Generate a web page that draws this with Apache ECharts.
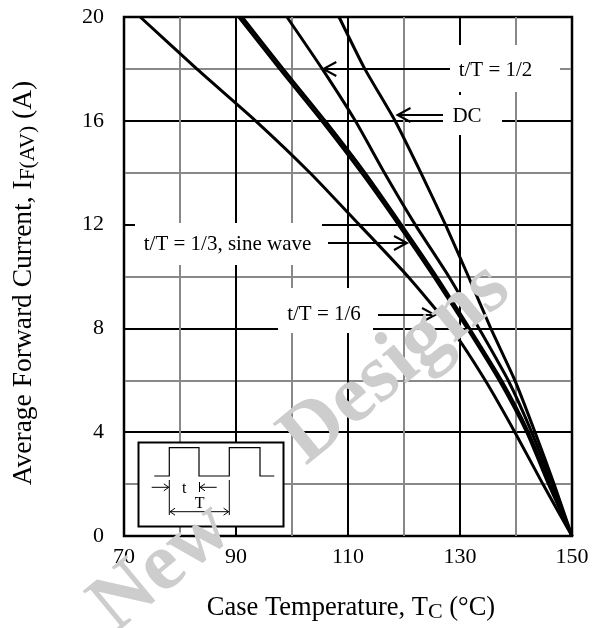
<!DOCTYPE html>
<html><head><meta charset="utf-8">
<script src="https://cdn.jsdelivr.net/npm/echarts@6/dist/echarts.min.js"></script>
<style>html,body{margin:0;padding:0;background:#fff}#c{width:601px;height:628px}</style>
</head><body><div id="c"></div>
<script>
// ---- data ----
const currents   = [20, 18, 16, 14, 12, 10, 8, 6, 4, 2, 0];
const tempSixth  = [72.9, 83.0, 93.5, 103.2, 112.0, 120.7, 128.4, 134.5, 139.8, 144.8, 150];
const tempThird  = [90.5, 97.8, 105.3, 112.4, 119.0, 125.3, 131.3, 137.0, 141.9, 145.8, 150];
const tempSine   = [91.1, 98.4, 105.9, 113.0, 119.5, 125.8, 131.7, 137.4, 142.2, 146.0, 150];
const tempHalf   = [99.1, 105.4, 111.3, 116.5, 122.0, 128.0, 133.4, 138.6, 142.8, 146.4, 150];
const tempDC     = [108.4, 113.0, 118.4, 123.0, 127.4, 131.5, 135.5, 139.8, 143.4, 146.8, 150];
const xTickLabels = [70, 90, 110, 130, 150];
const yTickLabels = [0, 4, 8, 12, 16, 20];

const serif = '"Liberation Serif", "Times New Roman", serif';
const chart = echarts.init(document.getElementById('c'), null, {renderer: 'canvas'});

function mk(name, temps) {
  return {
    name, type: 'line', showSymbol: false, smooth: 0.2, clip: true, z: 5,
    lineStyle: {color: '#000', width: 3},
    data: currents.map((c, i) => [temps[i], c])
  };
}

function arrow(tail, tip, y) {
  const d = Math.sign(tail - tip);
  return [
    {type: 'line', z: 60, shape: {x1: tail, y1: y, x2: tip, y2: y}, style: {stroke: '#000', lineWidth: 2}},
    {type: 'polyline', z: 60, shape: {points: [[tip + d * 13, y - 7], [tip, y], [tip + d * 13, y + 7]]}, style: {stroke: '#000', lineWidth: 2, fill: null}}
  ];
}
function box(x, y, w, h) {
  return {type: 'rect', z: 50, shape: {x, y, width: w, height: h}, style: {fill: '#fff', stroke: null}};
}
function label(text, x, y, size, z) {
  return {type: 'text', z: z || 61, x, y, style: {text, fill: '#000', font: (size || 21) + 'px ' + serif, align: 'center', verticalAlign: 'middle'}};
}
function smallArrow(tail, tip, y) {
  const d = Math.sign(tail - tip);
  return [
    {type: 'line', z: 71, shape: {x1: tail, y1: y, x2: tip, y2: y}, style: {stroke: '#000', lineWidth: 1}},
    {type: 'polyline', z: 71, shape: {points: [[tip + d * 5, y - 3.5], [tip, y], [tip + d * 5, y + 3.5]]}, style: {stroke: '#000', lineWidth: 1, fill: null}}
  ];
}
function richSet(main, sub, drop) {
  return {
    a: {fontFamily: serif, fontSize: main, lineHeight: main + 2, verticalAlign: 'top', color: '#000'},
    s: {fontFamily: serif, fontSize: sub, lineHeight: main + 2, verticalAlign: 'top', padding: [drop, 0, 0, 0], color: '#000'}
  };
}
function watermark(text, x, y) {
  return {type: 'text', z: 200, x, y, rotation: 0.69,
    style: {text, fill: '#cdcdcd', font: 'bold 82px ' + serif, align: 'center', verticalAlign: 'middle', blend: 'darken'}};
}

const graphics = [
  // axis titles
  {type: 'text', z: 10, x: 351, y: 609,
   style: {text: '{a|Case Temperature, T}{s|C}{a| (°C)}', rich: richSet(26.5, 22, 6), align: 'center', verticalAlign: 'middle'}},
  {type: 'text', z: 10, x: 25, y: 283, rotation: Math.PI / 2,
   style: {text: '{a|Average Forward Current, I}{s|F(AV)}{a| (A)}', rich: richSet(27.5, 21.5, 7), align: 'center', verticalAlign: 'middle'}},
  // annotation boxes
  box(450, 45, 110, 47),
  box(443, 95, 59, 40),
  box(135, 223, 187, 42),
  box(278, 288, 95, 45),
  label('t/T = 1/2', 495.5, 70),
  label('DC', 467, 116.5),
  label('t/T = 1/3, sine wave', 227.5, 244),
  label('t/T = 1/6', 324, 314),
  ...arrow(450, 323.3, 69),
  ...arrow(443, 397.5, 115),
  ...arrow(328, 407, 243),
  ...arrow(378, 435, 315),
  // inset
  {type: 'rect', z: 70, shape: {x: 138.5, y: 442.5, width: 145, height: 84}, style: {fill: '#fff', stroke: '#000', lineWidth: 2}},
  {type: 'polyline', z: 71, shape: {points: [[154.3, 476], [169.3, 476], [169.3, 447.7], [199, 447.7], [199, 476], [229.3, 476], [229.3, 447.7], [260, 447.7], [260, 476], [274.3, 476]]},
   style: {stroke: '#000', lineWidth: 1.2, fill: null}},
  {type: 'line', z: 71, shape: {x1: 169.3, y1: 480, x2: 169.3, y2: 515}, style: {stroke: '#000', lineWidth: 1}},
  {type: 'line', z: 71, shape: {x1: 229.3, y1: 480, x2: 229.3, y2: 515}, style: {stroke: '#000', lineWidth: 1}},
  {type: 'line', z: 71, shape: {x1: 199.5, y1: 482, x2: 199.5, y2: 492}, style: {stroke: '#000', lineWidth: 1}},
  ...smallArrow(151.7, 168.8, 487.3),
  ...smallArrow(216.7, 200, 487.3),
  {type: 'line', z: 71, shape: {x1: 170, y1: 511.7, x2: 228.6, y2: 511.7}, style: {stroke: '#000', lineWidth: 1}},
  {type: 'polyline', z: 71, shape: {points: [[175, 508.2], [170, 511.7], [175, 515.2]]}, style: {stroke: '#000', lineWidth: 1, fill: null}},
  {type: 'polyline', z: 71, shape: {points: [[223.6, 508.2], [228.6, 511.7], [223.6, 515.2]]}, style: {stroke: '#000', lineWidth: 1, fill: null}},
  label('t', 184.3, 488.5, 16, 72),
  label('T', 199.7, 503.3, 16, 72),
  // watermark
  watermark('New', 162, 568),
  watermark('Designs', 396, 364)
];

chart.setOption({
  backgroundColor: '#fff',
  animation: false,
  grid: {left: 124, right: 29, top: 17, bottom: 92, show: true, borderColor: '#000', borderWidth: 2.5, containLabel: false, outerBoundsMode: 'none'},
  xAxis: {
    type: 'value', min: 70, max: 150, interval: 20,
    axisLine: {show: false}, axisTick: {show: false},
    axisLabel: {fontFamily: serif, fontSize: 22, color: '#000', margin: 10,
      formatter: v => xTickLabels.includes(v) ? String(v) : ''},
    splitLine: {show: true, lineStyle: {color: '#000', width: 2}},
    minorTick: {show: false, splitNumber: 2},
    minorSplitLine: {show: true, lineStyle: {color: '#888', width: 2}}
  },
  yAxis: {
    type: 'value', min: 0, max: 20, interval: 4,
    axisLine: {show: false}, axisTick: {show: false},
    axisLabel: {fontFamily: serif, fontSize: 22, color: '#000', margin: 20,
      formatter: v => yTickLabels.includes(v) ? String(v) : ''},
    splitLine: {show: true, lineStyle: {color: '#000', width: 2}},
    minorTick: {show: false, splitNumber: 2},
    minorSplitLine: {show: true, lineStyle: {color: '#888', width: 2}}
  },
  series: [
    mk('t/T = 1/6', tempSixth),
    mk('t/T = 1/3', tempThird),
    mk('sine wave', tempSine),
    mk('t/T = 1/2', tempHalf),
    mk('DC', tempDC)
  ],
  graphic: {elements: graphics}
});
</script></body></html>
